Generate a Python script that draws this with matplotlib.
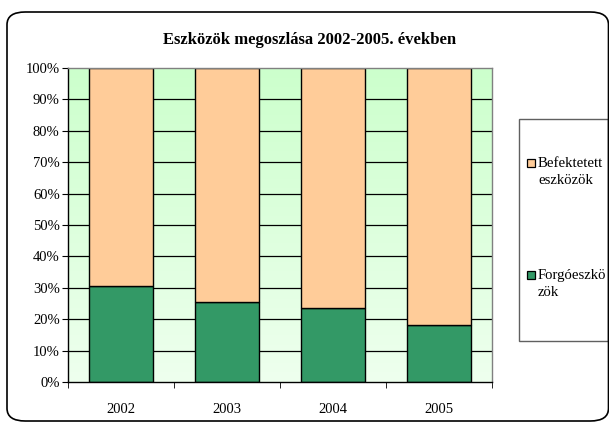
import matplotlib
matplotlib.use("Agg")
import matplotlib.pyplot as plt
import numpy as np
from matplotlib.patches import FancyBboxPatch, Rectangle
from matplotlib.colors import LinearSegmentedColormap

plt.rcParams['font.family'] = ['Liberation Serif', 'DejaVu Serif']

years = ['2002', '2003', '2004', '2005']
forgo = [30.6, 25.6, 23.7, 18.0]          # Forgóeszközök (%)
befektetett = [69.4, 74.4, 76.3, 82.0]    # Befektetett eszközök (%)
series_names = ['Befektetett\neszközök', 'Forgóeszkö\nzök']
yticks = list(range(0, 101, 10))
title = 'Eszközök megoszlása 2002-2005. években'

W, H = 609, 422
fig = plt.figure(figsize=(W / 100, H / 100), dpi=100)

def fx(px):
    return px / W

def fy(py):
    return 1 - py / H

# outer rounded border
outer = FancyBboxPatch((fx(7), fy(421)), fx(608.5) - fx(7), fy(12) - fy(421),
                       boxstyle="round,pad=0,rounding_size=0.03",
                       transform=fig.transFigure, facecolor='none',
                       edgecolor='black', linewidth=1.2, zorder=5)
fig.patches.append(outer)

ax = fig.add_axes([fx(68), fy(382), fx(492) - fx(68), fy(68) - fy(382)])
ax.set_xlim(-0.5, 3.5)
ax.set_ylim(0, 100)

# gradient background
grad = np.linspace(0, 1, 256).reshape(-1, 1)
cmap = LinearSegmentedColormap.from_list('bg', ['#EEFFEE', '#CCFFCC'])
ax.imshow(grad, extent=[-0.5, 3.5, 0, 100], aspect='auto', origin='lower',
          cmap=cmap, zorder=0)

# gridlines
for v in yticks[1:-1]:
    ax.axhline(v, color='black', linewidth=0.9, zorder=1)

x = np.arange(len(years))
bw = 0.61
ax.bar(x, forgo, bw, color='#339966', edgecolor='black', linewidth=1.0, zorder=2)
ax.bar(x, befektetett, bw, bottom=forgo, color='#FFCC99', edgecolor='black',
       linewidth=1.0, zorder=2)

ax.set_yticks(yticks)
ax.set_yticklabels([f'{v}%' for v in yticks], fontsize=10.5)
ax.set_xticks(x)
ax.set_xticklabels(years, fontsize=10.5)
ax.set_xticks(np.arange(-0.5, 4.0, 1.0), minor=True)
ax.tick_params(axis='x', which='major', length=0, pad=15)
ax.tick_params(axis='x', which='minor', length=4, direction='out', color='black')
ax.tick_params(axis='y', length=4, direction='out', color='black', pad=2)

ax.spines['left'].set_color('black')
ax.spines['bottom'].set_color('black')
ax.spines['top'].set_color('#808080')
ax.spines['right'].set_color('#808080')
for s in ax.spines.values():
    s.set_linewidth(1.0)
    s.set_zorder(3)

fig.text(fx(310), fy(40), title, ha='center', va='center', fontsize=12,
         fontweight='bold')

# legend
leg = Rectangle((fx(519), fy(341)), fx(607.5) - fx(519), fy(119) - fy(341),
                transform=fig.transFigure, facecolor='white', edgecolor='#606060',
                linewidth=1.0)
fig.patches.append(leg)
colors = ['#FFCC99', '#339966']
ys = [163, 275]
for name, c, yy in zip(series_names, colors, ys):
    sq = Rectangle((fx(527), fy(yy + 4)), fx(8), 8 / H,
                   transform=fig.transFigure, facecolor=c, edgecolor='black',
                   linewidth=0.9)
    fig.patches.append(sq)
    fig.text(fx(538), fy(yy - 6), name, ha='left', va='top', fontsize=10.6,
             linespacing=1.45)

fig.savefig('out.png', dpi=100)
